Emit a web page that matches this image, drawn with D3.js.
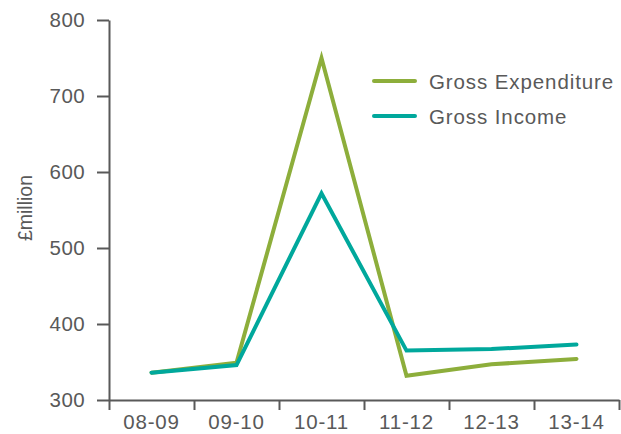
<!DOCTYPE html>
<html>
<head>
<meta charset="utf-8">
<script src="https://cdn.jsdelivr.net/npm/d3@7"></script>
<style>
  html, body { margin: 0; padding: 0; background: #fff; }
  svg { display: block; }
  text { font-family: "Liberation Sans", Arial, Helvetica, sans-serif; fill: #595959; }
</style>
</head>
<body>
<svg id="chart" width="621" height="434"></svg>
<script>
// Financial years
const years = ["08-09", "09-10", "10-11", "11-12", "12-13", "13-14"];
// Gross expenditure, £million
const grossExpenditure = [336, 349, 750, 332, 347, 354];
// Gross income, £million
const grossIncome = [336, 346, 572, 365, 367, 373];
// Y-axis tick values
const yTicks = [300, 400, 500, 600, 700, 800];

const seriesNames = ["Gross Expenditure", "Gross Income"];
const seriesColors = ["#8DAE3B", "#00A89C"];

const svg = d3.select("#chart");
const axisColor = "#595959";

const margin = { left: 109, right: 2, top: 20, bottom: 34 };
const W = 621, H = 434;

const x = d3.scaleBand().domain(years).range([margin.left, W - margin.right]).padding(0);
const y = d3.scaleLinear().domain([300, 800]).range([H - margin.bottom, margin.top]);

// Y axis
const yAxis = svg.append("g")
  .attr("transform", `translate(${margin.left},0)`)
  .call(d3.axisLeft(y).tickValues(yTicks).tickSize(12).tickPadding(12).tickSizeOuter(0));
yAxis.select(".domain").attr("stroke", axisColor).attr("stroke-width", 2);
yAxis.selectAll(".tick line").attr("stroke", axisColor).attr("stroke-width", 2);
yAxis.selectAll(".tick text")
  .style("font-size", "20.5px").style("letter-spacing", "0.4px").attr("fill", axisColor);

// X axis: ticks sit on category boundaries, labels centred in each band
const xEdge = d3.scaleLinear().domain([0, years.length]).range([margin.left, W - margin.right]);
const xAxis = svg.append("g")
  .attr("transform", `translate(0,${y(300)})`)
  .call(d3.axisBottom(xEdge).tickValues(d3.range(0, years.length + 1)).tickSize(10).tickSizeOuter(0).tickFormat(""));
xAxis.select(".domain").attr("stroke", axisColor).attr("stroke-width", 2);
xAxis.selectAll(".tick line").attr("stroke", axisColor).attr("stroke-width", 2);

svg.append("g").selectAll("text")
  .data(years).join("text")
  .attr("x", d => x(d) + x.bandwidth() / 2)
  .attr("y", 428.5)
  .attr("text-anchor", "middle")
  .style("font-size", "20.5px")
  .style("letter-spacing", "0.8px")
  .text(d => d);

// Y-axis title
svg.append("text")
  .attr("transform", `translate(25,208) rotate(-90)`)
  .attr("text-anchor", "middle")
  .attr("dominant-baseline", "central")
  .style("font-size", "19.5px")
  .text("£million");

// Lines
const line = d3.line()
  .x((d, i) => x(years[i]) + x.bandwidth() / 2)
  .y(d => y(d));

[grossExpenditure, grossIncome].forEach((vals, k) => {
  svg.append("path")
    .datum(vals)
    .attr("d", line)
    .attr("fill", "none")
    .attr("stroke", seriesColors[k])
    .attr("stroke-width", 4)
    .attr("stroke-linejoin", "miter")
    .attr("stroke-linecap", "round");
});

// Legend
const legend = svg.append("g");
seriesNames.forEach((name, k) => {
  const ly = 81 + k * 35;
  legend.append("line")
    .attr("x1", 374).attr("x2", 415)
    .attr("y1", ly).attr("y2", ly)
    .attr("stroke", seriesColors[k])
    .attr("stroke-width", 4)
    .attr("stroke-linecap", "round");
  legend.append("text")
    .attr("x", 429).attr("y", ly)
    .attr("dominant-baseline", "central")
    .style("font-size", "20.5px")
    .style("letter-spacing", "0.9px")
    .text(name);
});
</script>
</body>
</html>
